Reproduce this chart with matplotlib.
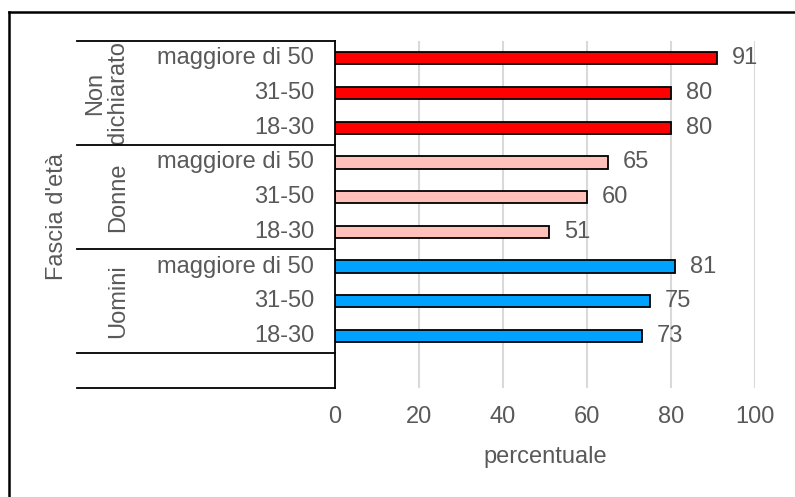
import matplotlib
matplotlib.use("Agg")
import matplotlib.pyplot as plt
from matplotlib import transforms
from matplotlib.lines import Line2D

plt.rcParams['font.family'] = ['Liberation Sans', 'DejaVu Sans']

# ---- data ----
groups = ["Uomini", "Donne", "Non\ndichiarato"]
ages = ["18-30", "31-50", "maggiore di 50"]
uomini = [73, 75, 81]
donne = [51, 60, 65]
non_dichiarato = [80, 80, 91]
group_colors = ["#00A2FF", "#FFC1BA", "#FF0000"]
x_ticks = [0, 20, 40, 60, 80, 100]
x_label = "percentuale"
y_label = "Fascia d'età"

W, H = 795, 497
fig = plt.figure(figsize=(W / 100, H / 100), dpi=100)
ax = fig.add_axes([335 / W, 1 - 388 / H, (755 - 335) / W, (388 - 41) / H])

TXT = "#595959"
FS = 17

series = [uomini, donne, non_dichiarato]
# row 0 is the empty category at the bottom
pos = 1
for gi, vals in enumerate(series):
    for ai, v in enumerate(vals):
        ax.barh(pos, v, height=0.35, color=group_colors[gi],
                edgecolor="black", linewidth=1.3, zorder=3)
        ax.annotate(str(v), xy=(v, pos), xytext=(15, 0),
                    textcoords="offset pixels",
                    va="center", ha="left", fontsize=FS, color=TXT)
        pos += 1

ax.set_xlim(0, 100)
ax.set_ylim(-0.5, 9.5)
ax.set_xticks(x_ticks)
ax.set_xticklabels([str(t) for t in x_ticks], fontsize=FS, color=TXT)
ax.tick_params(axis="x", length=0, pad=13)
ax.set_yticks([])
for s in ["top", "right", "bottom"]:
    ax.spines[s].set_visible(False)
ax.spines["left"].set_color("black")
ax.spines["left"].set_linewidth(1.3)
ax.spines["left"].set_zorder(4)
ax.grid(axis="x", color="#D9D9D9", linewidth=1.5, zorder=0)
ax.set_axisbelow(True)
ax.set_xlabel(x_label, fontsize=FS, color=TXT, labelpad=13)

# category labels (multi-level)
bt = transforms.blended_transform_factory(fig.transFigure, ax.transData)
pos = 1
for gi, g in enumerate(groups):
    for ai, a in enumerate(ages):
        ax.text(314 / W, pos, a, transform=bt, ha="right", va="center",
                fontsize=FS, color=TXT, clip_on=False)
        pos += 1
    center = 1 + gi * 3 + 1
    ax.text(129 / W, center, g, transform=bt, ha="right", va="center",
            rotation=90, fontsize=FS, color=TXT, clip_on=False,
            linespacing=1.05, multialignment="center")

for yy in [9.5, 6.5, 3.5, 0.5, -0.5]:
    ax.add_line(Line2D([77 / W, 335 / W], [yy, yy], transform=bt,
                       color="black", linewidth=1.3, clip_on=False, zorder=5))

fig.text(57 / W, 1 - 216 / H, y_label, rotation=90, ha="center", va="center",
         fontsize=FS, color=TXT)

# outer border (cut on right and bottom)
fig.add_artist(Line2D([8.5 / W, 1.0], [1 - 12 / H, 1 - 12 / H],
                      transform=fig.transFigure, color="black", linewidth=1.8))
fig.add_artist(Line2D([8.5 / W, 8.5 / W], [0, 1 - 12 / H],
                      transform=fig.transFigure, color="black", linewidth=1.8))

fig.savefig("out.png", dpi=100)
